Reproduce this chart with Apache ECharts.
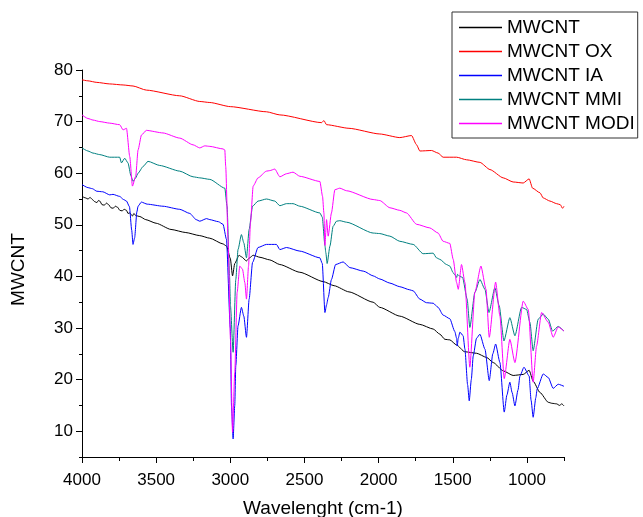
<!DOCTYPE html>
<html>
<head>
<meta charset="utf-8">
<script src="https://cdn.jsdelivr.net/npm/echarts@6/dist/echarts.min.js"></script>
<style>html,body{margin:0;padding:0;background:#fff}#c{width:643px;height:517px}</style>
</head>
<body>
<div id="c"></div>
<script>
// Tick values
const wnTicks = [4000, 3500, 3000, 2500, 2000, 1500, 1000];
const wnMinor = [3750, 3250, 2750, 2250, 1750, 1250, 750];
const valTicks = [10, 20, 30, 40, 50, 60, 70, 80];
const valMinor = [5, 15, 25, 35, 45, 55, 65, 75];
const seriesNames = ['MWCNT', 'MWCNT OX', 'MWCNT IA', 'MWCNT MMI', 'MWCNT MODI'];

// [wavenumber, value]
const mwcnt = [[4000,55.5],[3975,55.2],[3960,55.0],[3945,55.3],[3930,54.9],[3915,54.5],[3900,54.3],[3890,54.7],[3880,54.6],[3865,53.9],[3850,53.8],[3835,54.2],[3820,53.9],[3805,53.3],[3790,53.2],[3775,53.6],[3760,53.4],[3745,52.8],[3730,52.7],[3715,53.0],[3700,52.8],[3690,52.2],[3678,52.3],[3660,51.7],[3650,52.2],[3638,51.8],[3610,51.6],[3570,51.0],[3500,50.3],[3400,49.1],[3300,48.5],[3206,47.9],[3138,47.4],[3050,46.3],[3026,45.9],[3000,43.5],[2985,40.1],[2970,42.5],[2941,44.1],[2925,43.8],[2891,43.0],[2870,43.6],[2846,44.1],[2800,43.7],[2734,43.2],[2666,42.3],[2531,40.8],[2374,39.0],[2300,38.2],[2200,37.0],[2037,35.0],[1992,34.0],[1857,32.3],[1722,30.7],[1632,29.8],[1587,28.8],[1553,27.8],[1520,27.7],[1474,26.7],[1420,25.4],[1339,25.1],[1272,24.3],[1227,23.3],[1160,21.7],[1093,20.8],[1025,21.0],[985,21.8],[958,19.7],[912,17.5],[856,15.6],[830,15.4],[800,15.3],[780,15.0],[765,15.3],[750,14.9]];

const mwcntOx = [[4000,78.1],[3960,77.9],[3900,77.6],[3813,77.3],[3723,77.1],[3656,76.9],[3566,76.1],[3341,75.0],[3206,73.9],[3138,73.7],[3000,72.9],[2756,71.9],[2666,71.3],[2384,69.8],[2369,70.2],[2351,69.4],[2200,68.7],[1992,67.6],[1857,66.9],[1778,67.3],[1744,65.5],[1722,64.3],[1643,64.4],[1599,63.9],[1565,63.1],[1474,63.1],[1407,62.6],[1317,62.1],[1249,60.7],[1160,59.1],[1093,58.3],[1025,58.1],[985,58.9],[962,57.1],[912,56.2],[890,55.2],[845,54.6],[800,54.1],[775,53.9],[760,53.2],[750,53.6]];

const mwcntIa = [[4000,57.8],[3960,57.2],[3930,57.0],[3900,56.5],[3860,56.4],[3813,55.8],[3791,55.9],[3746,55.5],[3720,54.9],[3700,54.6],[3680,53.5],[3665,49.0],[3656,46.2],[3645,47.5],[3630,52.5],[3622,53.6],[3600,54.4],[3560,54.0],[3454,53.6],[3341,53.0],[3273,52.2],[3230,51.0],[3206,50.7],[3160,51.2],[3138,51.0],[3080,50.6],[3049,50.1],[3026,47.2],[3000,30.0],[2992,14.9],[2981,8.5],[2970,15.0],[2963,22.7],[2948,30.4],[2925,34.0],[2909,32.3],[2891,28.2],[2873,35.6],[2850,42.7],[2813,45.6],[2756,46.2],[2689,46.2],[2666,45.2],[2621,45.6],[2531,44.9],[2396,43.6],[2380,42.5],[2362,33.0],[2351,34.5],[2340,35.9],[2318,39.4],[2290,42.3],[2239,42.8],[2194,41.7],[2100,41.0],[2037,40.1],[1992,39.5],[1924,38.7],[1857,38.0],[1790,37.4],[1767,37.2],[1722,35.6],[1677,34.9],[1632,34.8],[1599,34.0],[1565,32.5],[1520,31.8],[1486,29.3],[1474,28.0],[1470,26.5],[1463,28.0],[1452,29.2],[1430,28.5],[1418,25.9],[1400,19.0],[1389,15.9],[1375,20.0],[1362,24.6],[1340,28.0],[1317,28.8],[1283,25.9],[1254,19.8],[1230,25.0],[1211,26.9],[1182,23.3],[1153,13.7],[1135,17.0],[1115,19.5],[1100,17.5],[1081,14.9],[1060,18.0],[1047,20.7],[1020,22.4],[985,20.7],[972,16.0],[958,12.7],[940,16.5],[931,18.2],[890,21.1],[856,20.4],[823,18.3],[789,19.1],[750,18.7]];

const mwcntMmi = [[4000,64.9],[3960,64.3],[3926,63.9],[3880,63.6],[3813,63.1],[3746,63.1],[3734,62.0],[3712,62.9],[3690,62.0],[3670,59.5],[3656,58.4],[3640,59.0],[3622,60.0],[3588,61.3],[3555,62.3],[3476,61.5],[3341,60.4],[3251,59.3],[3206,59.1],[3138,58.8],[3037,57.1],[3022,53.6],[3005,40.0],[2999,34.3],[2981,25.3],[2963,39.4],[2948,45.2],[2925,48.1],[2909,46.5],[2891,43.6],[2873,49.1],[2850,53.6],[2813,54.6],[2756,55.0],[2700,54.6],[2666,53.7],[2621,54.1],[2577,54.1],[2531,53.6],[2396,52.3],[2380,51.5],[2362,46.0],[2356,44.6],[2347,42.5],[2328,45.9],[2307,49.7],[2284,50.7],[2262,50.8],[2216,50.5],[2037,48.4],[1992,48.3],[1924,47.8],[1857,46.8],[1767,46.2],[1700,44.4],[1632,44.5],[1610,43.6],[1587,43.3],[1542,42.3],[1520,42.0],[1497,40.7],[1486,40.3],[1474,39.8],[1468,40.4],[1452,40.0],[1434,39.8],[1403,35.6],[1385,30.1],[1351,36.9],[1317,39.4],[1283,37.5],[1256,33.0],[1216,37.8],[1187,34.3],[1155,27.5],[1115,32.0],[1081,28.5],[1036,34.0],[1002,33.6],[980,31.1],[958,25.6],[924,31.7],[890,32.7],[856,31.7],[827,29.4],[789,30.3],[750,29.4]];

const mwcntModi = [[4000,71.3],[3960,70.6],[3926,70.3],[3880,70.0],[3813,69.7],[3746,69.4],[3723,68.4],[3700,68.7],[3678,63.2],[3660,57.5],[3638,59.4],[3622,64.5],[3599,67.4],[3566,68.3],[3454,67.8],[3341,66.8],[3251,65.5],[3206,64.9],[3172,65.3],[3138,65.2],[3049,64.7],[3037,64.5],[3031,61.3],[3015,47.2],[2999,27.8],[2985,9.8],[2970,21.4],[2954,36.9],[2936,42.0],[2918,41.4],[2902,38.8],[2891,35.6],[2877,42.0],[2864,50.4],[2846,57.5],[2813,59.1],[2756,60.4],[2734,60.5],[2700,60.8],[2666,59.3],[2621,59.9],[2577,60.2],[2531,59.4],[2396,58.4],[2378,55.5],[2369,52.3],[2362,46.0],[2351,51.0],[2340,47.8],[2318,52.3],[2295,56.8],[2262,57.1],[2216,56.6],[2037,54.9],[1992,54.7],[1924,53.3],[1857,52.8],[1812,52.3],[1744,50.1],[1655,49.4],[1599,48.4],[1565,46.8],[1520,46.4],[1497,43.3],[1474,38.8],[1463,37.5],[1441,42.3],[1418,38.8],[1385,22.4],[1351,36.9],[1310,42.0],[1276,37.5],[1254,28.2],[1211,38.9],[1182,32.3],[1153,20.2],[1115,27.8],[1081,23.3],[1025,35.2],[991,33.6],[958,19.5],[935,26.5],[901,33.0],[856,31.1],[823,28.2],[789,30.2],[750,29.4]];

const seriesData = [mwcnt, mwcntOx, mwcntIa, mwcntMmi, mwcntModi];
const seriesColors = ['#000000', '#ff0000', '#0000ff', '#008080', '#ff00ff'];

const FONT = 'Liberation Sans, Arial, sans-serif';
const chart = echarts.init(document.getElementById('c'), null, {renderer: 'canvas'});

const baseX = {
  type: 'value', min: 750, max: 4000, inverse: true, position: 'bottom', gridIndex: 0,
  splitLine: {show: false}
};
const baseY = {
  type: 'value', min: 5, max: 80, position: 'left', gridIndex: 0,
  splitLine: {show: false}
};
const plain = v => String(v);

chart.setOption({
  animation: false,
  backgroundColor: '#ffffff',
  grid: {left: 82, right: 79, top: 70, bottom: 60, containLabel: false, outerBoundsMode: 'none'},
  legend: {
    data: seriesNames,
    orient: 'vertical',
    left: 452, top: 12,
    padding: [6, 3, 5, 7],
    itemGap: 5,
    itemWidth: 43, itemHeight: 1.5,
    icon: 'rect',
    borderColor: '#333', borderWidth: 1,
    textStyle: {fontFamily: FONT, fontSize: 19, color: '#000'}
  },
  xAxis: [
    Object.assign({}, baseX, {
      name: 'Wavelenght (cm-1)', nameLocation: 'middle', nameGap: 42,
      nameTextStyle: {fontFamily: FONT, fontSize: 19, color: '#000'},
      axisLine: {show: true, lineStyle: {color: '#000', width: 1}},
      axisTick: {show: true, customValues: wnTicks, length: 6, lineStyle: {color: '#000'}},
      axisLabel: {show: true, customValues: wnTicks, formatter: plain, margin: 15, fontFamily: FONT, fontSize: 17, color: '#000'}
    }),
    Object.assign({}, baseX, {
      axisLine: {show: false},
      axisTick: {show: true, customValues: wnMinor, length: 4, lineStyle: {color: '#000'}},
      axisLabel: {show: false}
    })
  ],
  yAxis: [
    Object.assign({}, baseY, {
      name: 'MWCNT', nameLocation: 'middle', nameGap: 54, nameRotate: 90,
      nameTextStyle: {fontFamily: FONT, fontSize: 19, color: '#000', padding: [0, 12, 0, 0]},
      axisLine: {show: true, lineStyle: {color: '#000', width: 1}},
      axisTick: {show: true, customValues: valTicks, length: 6, lineStyle: {color: '#000'}},
      axisLabel: {show: true, customValues: valTicks, formatter: plain, margin: 9, fontFamily: FONT, fontSize: 17, color: '#000'}
    }),
    Object.assign({}, baseY, {
      axisLine: {show: false},
      axisTick: {show: true, customValues: valMinor, length: 3, lineStyle: {color: '#000'}},
      axisLabel: {show: false}
    })
  ],
  series: seriesNames.map((n, i) => ({
    name: n, type: 'line', xAxisIndex: 0, yAxisIndex: 0,
    data: seriesData[i], showSymbol: false, symbol: 'none',
    smooth: 0.2, smoothMonotone: 'x',
    color: seriesColors[i],
    lineStyle: {color: seriesColors[i], width: 1}
  }))
});
</script>
</body>
</html>
